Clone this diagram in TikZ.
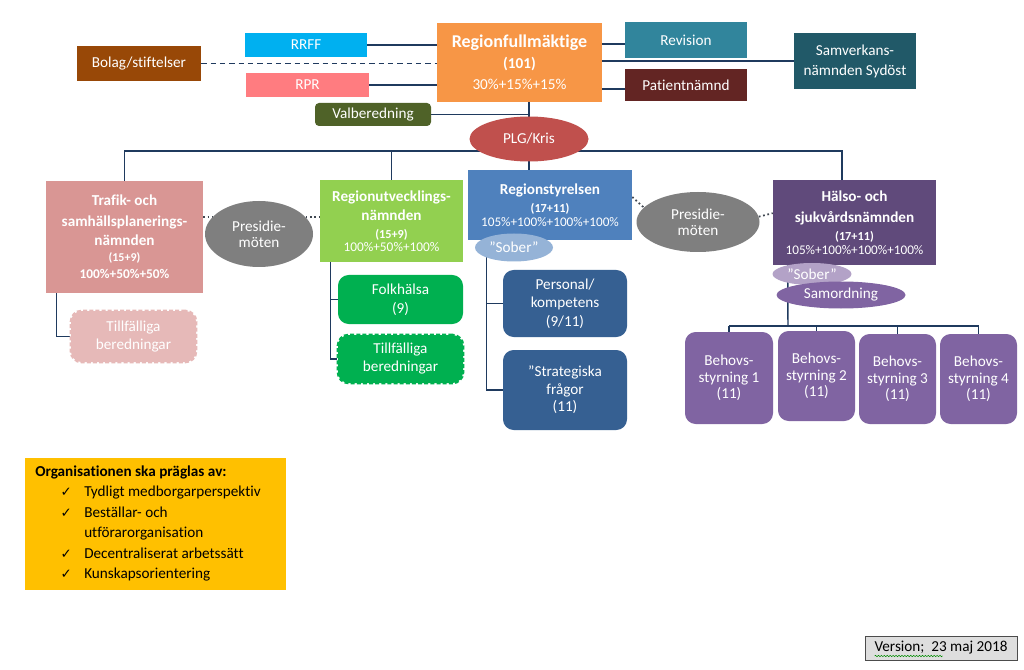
\documentclass[tikz,border=0pt]{standalone}
\usepackage{fontspec}
\setmainfont{Carlito}[Ligatures=NoCommon]
\newfontfamily\djv{DejaVu Sans}
\usetikzlibrary{shapes.geometric,decorations.pathmorphing}
\pgfdeclarelayer{bg}
\pgfsetlayers{bg,main}
\newcommand{\fs}[2]{\fontsize{#1}{#2}\selectfont}
\newcommand{\ck}{{\djv\fs{10}{10}✓}}
\definecolor{cRFM}{HTML}{F79646}
\definecolor{cRRFF}{HTML}{00B0F0}
\definecolor{cBolag}{HTML}{984807}
\definecolor{cRPR}{HTML}{FF7C80}
\definecolor{cValb}{HTML}{4F6228}
\definecolor{cRev}{HTML}{31859C}
\definecolor{cPat}{HTML}{632523}
\definecolor{cSam}{HTML}{215968}
\definecolor{cPLG}{HTML}{C0504D}
\definecolor{cTR}{HTML}{D99694}
\definecolor{cPM}{HTML}{7F7F7F}
\definecolor{cRU}{HTML}{92D050}
\definecolor{cRS}{HTML}{4F81BD}
\definecolor{cHS}{HTML}{604A7B}
\definecolor{cTRT}{HTML}{E6B9B8}
\definecolor{cGreen}{HTML}{00B050}
\definecolor{cSoberA}{HTML}{95B3D7}
\definecolor{cDB}{HTML}{366092}
\definecolor{cSoberB}{HTML}{B3A2C7}
\definecolor{cPurp}{HTML}{8064A2}
\definecolor{cYel}{HTML}{FFC000}
\definecolor{cVer}{HTML}{DEDEDE}
\definecolor{linec}{HTML}{1F3A5E}
\definecolor{dotc}{HTML}{3F4650}
\begin{document}
\begin{tikzpicture}[x=0.75pt,y=-0.75pt,
  sz/.style 2 args={minimum width=#1*0.75pt, minimum height=#2*0.75pt},
  box/.style={rectangle, inner sep=0pt, align=center, text=white, font=\fs{11.4}{13}},
  rbox/.style={box, rounded corners=8pt},
  ell/.style={ellipse, inner sep=0pt, align=center, text=white, font=\fs{11.4}{12}},
  conn/.style={draw=linec, line width=1.1pt},
  dashconn/.style={conn, dash pattern=on 4pt off 3pt},
  dotconn/.style={draw=dotc, line width=1.3pt, dotted},
  tmpbox/.style={rbox, line width=2pt, dash pattern=on 3pt off 1.6pt}]
\useasboundingbox (0,0) rectangle (1024,670);

% top level
\node[box, sz={165}{79}, fill=cRFM, font=\fs{11.4}{15.75}] (rfm) at (519.5,62.5)
  {{\fs{13.5}{15.75}\bfseries Regionfullmäktige}\\{\bfseries (101)}\\30\%+15\%+15\%};
\node[box, sz={122}{24}, fill=cRRFF] (rrff) at (306,45) {RRFF};
\node[box, sz={124}{35}, fill=cBolag] (bolag) at (139,63.5) {Bolag/stiftelser};
\node[box, sz={123}{24}, fill=cRPR] (rpr) at (307.5,85) {RPR};
\node[box, sz={116}{23}, fill=cValb, rounded corners=3pt] (valb) at (373,114.5) {Valberedning};
\node[box, sz={122}{36}, fill=cRev] (revision) at (686,40) {Revision};
\node[box, sz={122}{32}, fill=cPat] (patient) at (686,85) {Patientnämnd};
\node[box, sz={122}{56}, fill=cSam, font=\fs{11.4}{15}] (samverk) at (855,61) {Samverkans-\\nämnden Sydöst};
\node[ell, sz={119}{45}, fill=cPLG] (plg) at (529,139) {PLG/Kris};

% second level
\node[box, sz={157}{112}, fill=cTR, font=\fs{11.4}{12}\bfseries] (tr) at (124.5,237)
  {Trafik- och\\[3.75pt]samhällsplanerings-\\[2.25pt]nämnden\\{\fs{9}{10}(15+9)}\\[0.75pt]{\fs{10}{12}100\%+50\%+50\%}};
\node[ell, sz={108}{66}, fill=cPM] (pm1) at (259,234) {Presidie-\\möten};
\node[box, sz={143}{82}, fill=cRU, font=\fs{10}{10}] (ru) at (391.5,221)
  {{\fs{11.4}{12}\bfseries Regionutvecklings-}\\[4.25pt]{\fs{11.4}{12}\bfseries nämnden}\\[3.5pt]{\fs{9.2}{10}\bfseries (15+9)}\\100\%+50\%+100\%};
\node[box, sz={164}{70}, fill=cRS, font=\fs{9.9}{10.5}] (rs) at (550,205)
  {{\fs{11.4}{12}\bfseries Regionstyrelsen}\\[3pt]{\fs{9.2}{10}\bfseries (17+11)}\\105\%+100\%+100\%+100\%};
\node[ell, sz={123}{60}, fill=cPM] (pm2) at (698,222) {Presidie-\\möten};
\node[box, sz={163}{85}, fill=cHS, font=\fs{9.9}{10.5}] (hs) at (854.5,222.5)
  {{\fs{11.4}{12}\bfseries Hälso- och}\\[5.25pt]{\fs{11.4}{12}\bfseries sjukvårdsnämnden}\\[3pt]{\fs{9.2}{10}\bfseries (17+11)}\\105\%+100\%+100\%+100\%};

% third level
\node[tmpbox, sz={125}{51}, fill=cTRT, draw=cTRT, font=\fs{11.4}{13.5}] (trt) at (133.5,336.5) {Tillfälliga\\beredningar};
\node[rbox, sz={125}{49}, fill=cGreen, font=\fs{11.4}{14}] (fh) at (400.5,299.5) {Folkhälsa\\(9)};
\node[tmpbox, sz={125}{48}, fill=cGreen, draw=cGreen, font=\fs{11.4}{13.5}] (rut) at (400.5,359) {Tillfälliga\\beredningar};
\node[ell, sz={78}{28}, fill=cSoberA] (sob1) at (514,247.5) {”Sober”};
\node[rbox, sz={124}{67}, fill=cDB, font=\fs{11.4}{14}] (pk) at (565,303.5) {Personal/\\kompetens\\(9/11)};
\node[rbox, sz={124}{80}, fill=cDB, font=\fs{11.4}{13}] (sf) at (565,390) {”Strategiska\\frågor\\(11)};
\node[ell, sz={79}{22}, fill=cSoberB] (sob2) at (812,274) {”Sober”};
\node[ell, sz={129}{27}, fill=cPurp] (sam) at (841,295) {Samordning};
\node[rbox, sz={88}{92}, fill=cPurp, font=\fs{11.4}{12.5}] (b1) at (729,378) {Behovs-\\styrning 1\\(11)};
\node[rbox, sz={77}{90}, fill=cPurp, font=\fs{11.4}{12.5}] (b2) at (816.5,376) {Behovs-\\styrning 2\\(11)};
\node[rbox, sz={77}{90}, fill=cPurp, font=\fs{11.4}{12.5}] (b3) at (897.5,379) {Behovs-\\styrning 3\\(11)};
\node[rbox, sz={77}{90}, fill=cPurp, font=\fs{11.4}{12.5}] (b4) at (978.5,379) {Behovs-\\styrning 4\\(11)};

% yellow box
\node[rectangle, inner sep=0pt, sz={261}{132}, fill=cYel] (org) at (155.5,524) {};
\node[anchor=north west, inner sep=0pt, font=\fs{11.4}{15.3}, text=black] (orgtxt) at (35,462)
  {\begin{tabular}{@{}p{36.75pt}@{}l@{}}
   \multicolumn{2}{@{}l@{}}{\bfseries Organisationen ska präglas av:}\\
   \hspace*{19pt}\ck & Tydligt medborgarperspektiv\\
   \hspace*{19pt}\ck & Beställar- och\\
    & utförarorganisation\\
   \hspace*{19pt}\ck & Decentraliserat arbetssätt\\
   \hspace*{19pt}\ck & Kunskapsorientering
   \end{tabular}};

% version
\node[box, sz={152}{24}, fill=cVer, draw=black!70, line width=0.6pt, text=black] (ver) at (941,648) {Version;\ \ 23 maj 2018};
\draw[green!55!black, line width=0.4pt, decorate, decoration={snake, amplitude=0.5pt, segment length=2.2pt}]
  ([xshift=7.5pt,yshift=-6pt]ver.west) -- ++(51pt,0);

\begin{pgfonlayer}{bg}
\fill[white] (0,0) rectangle (1024,670);
\draw[conn] (rrff.east) -- (rrff.east -| rfm.west);
\draw[dashconn] (bolag.east) -- (bolag.east -| rfm.west);
\draw[conn] (rpr.east) -- (rpr.east -| rfm.west);
\draw[conn] ([yshift=-3pt]revision.west -| rfm.east) -- ([yshift=-3pt]revision.west);
\draw[conn] ([yshift=-3pt]patient.west -| rfm.east) -- ([yshift=-3pt]patient.west);
\draw[conn] (samverk.west -| rfm.east) -- (samverk.west);
\draw[conn] (valb.east) -- (valb.east -| plg.center);
\draw[conn] (rfm.south -| plg.center) -- (rs.north -| plg.center);
\coordinate (bus) at (529,151);
\coordinate (hsn) at ([xshift=-9.4pt]hs.north);
\draw[conn] (tr.north) -- (tr.north |- bus) -- (hsn |- bus) -- (hsn);
\draw[conn] (ru.north) -- (ru.north |- bus);
\draw[dotconn] (tr.east |- pm1.160) -- (pm1.160);
\draw[dotconn] (pm1.20) -- (ru.west |- pm1.20);
\draw[dotconn] ([yshift=6pt]rs.east) -- (pm2.165);
\draw[dotconn] (pm2.5) -- ([yshift=7pt]hs.west);
\coordinate (trs) at ([xshift=8.25pt]tr.south west);
\draw[conn] (trs) |- (trt.west);
\coordinate (rus) at ([xshift=8.25pt]ru.south west);
\draw[conn] (rus) |- (fh.west);
\draw[conn] (rus) |- (rut.west);
\coordinate (rss) at ([xshift=14.25pt]rs.south west);
\draw[conn] (rss) |- (pk.west);
\draw[conn] (rss) |- (sf.west);
\coordinate (hss) at ([xshift=11.25pt]hs.south west);
\coordinate (bb) at (788,326);
\draw[conn] (hss) -- (bb);
\draw[conn] (b1.north |- bb) -- (b4.north |- bb);
\draw[conn] (b1.north) -- (b1.north |- bb);
\draw[conn] (b2.north) -- (b2.north |- bb);
\draw[conn] (b3.north) -- (b3.north |- bb);
\draw[conn] (b4.north) -- (b4.north |- bb);
\end{pgfonlayer}
\end{tikzpicture}
\end{document}
